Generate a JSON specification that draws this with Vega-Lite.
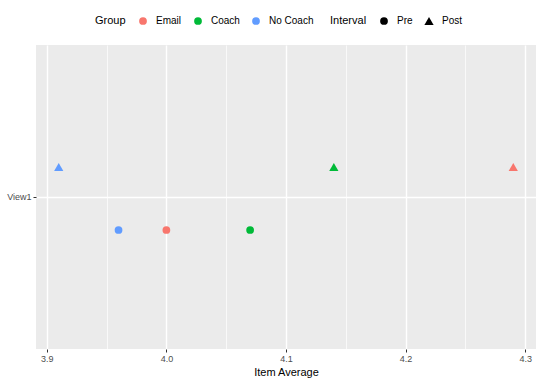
{
  "$schema": "https://vega.github.io/schema/vega-lite/v6.json",
  "width": 500,
  "height": 304,
  "autosize": {"type": "none"},
  "padding": {"left": 36, "top": 45, "right": 4, "bottom": 37},
  "background": "white",
  "data": {"values": [
    {"Group": "Email", "Interval": "Pre", "View": "View1", "Average": 4.00},
    {"Group": "Coach", "Interval": "Pre", "View": "View1", "Average": 4.07},
    {"Group": "No Coach", "Interval": "Pre", "View": "View1", "Average": 3.96},
    {"Group": "Email", "Interval": "Post", "View": "View1", "Average": 4.29},
    {"Group": "Coach", "Interval": "Post", "View": "View1", "Average": 4.14},
    {"Group": "No Coach", "Interval": "Post", "View": "View1", "Average": 3.91}
  ]},
  "mark": {"type": "point", "filled": true, "opacity": 1},
  "encoding": {
    "x": {
      "field": "Average", "type": "quantitative",
      "scale": {"domain": [3.891, 4.309], "nice": false, "zero": false},
      "axis": {
        "title": "Item Average",
        "values": [3.9, 3.95, 4.0, 4.05, 4.1, 4.15, 4.2, 4.25, 4.3],
        "labelExpr": "abs(datum.value*10 - round(datum.value*10)) < 0.001 ? format(datum.value, '.1f') : ''",
        "tickOpacity": {"condition": {"test": "abs(datum.value*10 - round(datum.value*10)) < 0.001", "value": 1}, "value": 0},
        "gridWidth": {"condition": {"test": "abs(datum.value*10 - round(datum.value*10)) < 0.001", "value": 1.4}, "value": 0.7}
      }
    },
    "y": {
      "field": "View", "type": "nominal",
      "scale": {"type": "band", "paddingInner": 0, "paddingOuter": 0},
      "axis": {"title": null, "gridWidth": 1.4}
    },
    "yOffset": {
      "field": "Interval", "type": "nominal",
      "scale": {"type": "point", "domain": ["Post", "Pre"], "range": [122, 185], "padding": 0}
    },
    "size": {
      "field": "Interval", "type": "nominal",
      "scale": {"domain": ["Pre", "Post"], "range": [60, 85]},
      "legend": {"orient": "none", "legendX": 294, "legendY": -29, "title": "Interval"}
    },
    "color": {
      "field": "Group", "type": "nominal",
      "scale": {"domain": ["Email", "Coach", "No Coach"], "range": ["#F8766D", "#00BA38", "#619CFF"]},
      "legend": {"orient": "none", "legendX": 59, "legendY": -29, "title": "Group"}
    },
    "shape": {
      "field": "Interval", "type": "nominal",
      "scale": {"domain": ["Pre", "Post"], "range": ["circle", "triangle-up"]},
      "legend": {"orient": "none", "legendX": 294, "legendY": -29, "title": "Interval"}
    }
  },
  "config": {
    "font": "Liberation Sans",
    "view": {"stroke": null, "fill": "#EBEBEB"},
    "axis": {
      "domain": false,
      "grid": true,
      "gridColor": "white",
      "labelColor": "#4D4D4D",
      "labelFontSize": 9,
      "labelFont": "Liberation Sans",
      "tickColor": "#333333",
      "tickSize": 3,
      "labelPadding": 2,
      "titleFontSize": 11,
      "titleFontWeight": "normal",
      "titleColor": "black",
      "titlePadding": 3,
      "titleFont": "Liberation Sans"
    },
    "legend": {
      "direction": "horizontal",
      "titleOrient": "left",
      "titleFontSize": 11,
      "titleFontWeight": "normal",
      "titleColor": "black",
      "titleFont": "Liberation Sans",
      "titlePadding": 12,
      "labelFontSize": 10,
      "labelColor": "black",
      "labelFont": "Liberation Sans",
      "labelOffset": 8,
      "columnPadding": 11,
      "symbolSize": 60,
      "symbolStrokeWidth": 0,
      "symbolOpacity": 1,
      "symbolFillColor": "black",
      "titleBaseline": "middle",
      "titleAnchor": "middle"
    }
  }
}
